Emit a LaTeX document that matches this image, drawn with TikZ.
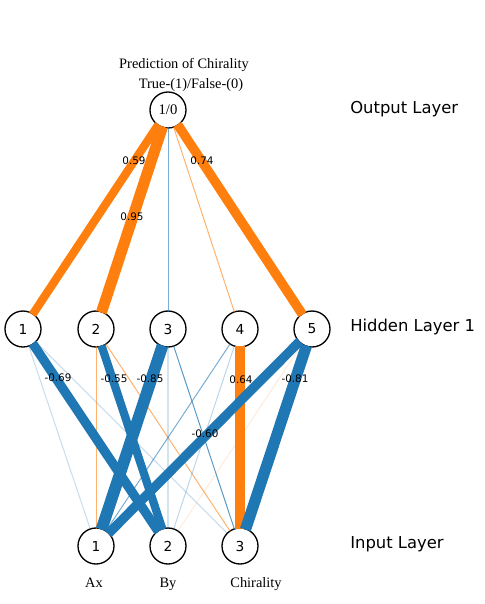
\documentclass[tikz,border=0pt]{standalone}
\usepackage{fontspec}
\setmainfont{Liberation Serif}
\newfontfamily\dv{DejaVu Sans}
\definecolor{tblue}{RGB}{31,119,180}
\definecolor{torange}{RGB}{255,127,14}
\begin{document}
\begin{tikzpicture}[x=0.75pt,y=-0.75pt,
  neuron/.style={circle,draw=black,line width=1pt,minimum size=27pt,inner sep=0pt,
    font=\dv\fontsize{10.3}{12}\selectfont},
  wlab/.style={font=\dv\fontsize{7.8}{9}\selectfont,inner sep=0pt},
  layerlab/.style={font=\dv\fontsize{12.3}{14}\selectfont,anchor=base west,inner sep=0pt},
  sertext/.style={font=\fontsize{10.8}{13}\selectfont,inner sep=0pt,anchor=base},
  wedge/.style={line cap=butt,shorten <=-1pt,shorten >=-1pt}]
\useasboundingbox (0,0) rectangle (485,604);

% nodes
\node[neuron,font=\fontsize{11}{13}\selectfont] (o) at (168,110) {1/0};
\node[neuron] (h1) at (23,329) {1};
\node[neuron] (h2) at (96,329) {2};
\node[neuron] (h3) at (168,329) {3};
\node[neuron] (h4) at (240,329) {4};
\node[neuron] (h5) at (312,329) {5};
\node[neuron] (i1) at (96,546) {1};
\node[neuron] (i2) at (168,546) {2};
\node[neuron] (i3) at (240,546) {3};

% output - hidden
\draw[wedge,torange,line width=6.2pt] (o) -- (h1);
\draw[wedge,torange,line width=8.3pt] (o) -- (h2);
\draw[wedge,tblue,line width=0.75pt,opacity=0.6] (o) -- (h3);
\draw[wedge,torange,line width=0.75pt,opacity=0.6] (o) -- (h4);
\draw[wedge,torange,line width=7.1pt] (o) -- (h5);

% hidden - input (thin first)
\draw[wedge,tblue,line width=0.75pt,opacity=0.25] (h1) -- (i1);
\draw[wedge,tblue,line width=0.75pt,opacity=0.3] (h1) -- (i3);
\draw[wedge,torange,line width=0.75pt,opacity=0.6] (h2) -- (i1);
\draw[wedge,torange,line width=0.75pt,opacity=0.6] (h2) -- (i3);
\draw[wedge,tblue,line width=1.9pt,opacity=0.2] (h3) -- (i2);
\draw[wedge,tblue,line width=0.75pt,opacity=0.75] (h3) -- (i3);
\draw[wedge,tblue,line width=0.75pt,opacity=0.6] (h4) -- (i1);
\draw[wedge,tblue,line width=0.75pt,opacity=0.3] (h4) -- (i2);
\draw[wedge,torange,line width=0.75pt,opacity=0.15] (h5) -- (i2);
% thick
\draw[wedge,tblue,line width=7pt] (h1) -- (i2);
\draw[wedge,tblue,line width=6.2pt] (h2) -- (i2);
\draw[wedge,tblue,line width=8.8pt] (h3) -- (i1);
\draw[wedge,torange,line width=7.3pt] (h4) -- (i3);
\draw[wedge,tblue,line width=7pt] (h5) -- (i1);
\draw[wedge,tblue,line width=8.4pt] (h5) -- (i3);

% weight labels
\node[wlab] (w1) at (134,161) {0.59};
\node[wlab] (w2) at (132,217) {0.95};
\node[wlab] (w3) at (202,161) {0.74};
\node[wlab] (w4) at (58,378) {-0.69};
\node[wlab] (w5) at (114,379) {-0.55};
\node[wlab] (w6) at (150,379) {-0.85};
\node[wlab] (w7) at (241,380) {0.64};
\node[wlab] (w8) at (295,379) {-0.81};
\node[wlab] (w9) at (205,434) {-0.60};

% titles
\node[sertext] (t1) at (184,68) {Prediction of Chirality};
\node[sertext] (t2) at (191,88) {True-(1)/False-(0)};
\node[sertext] (a1) at (94,587) {Ax};
\node[sertext] (a2) at (168,587) {By};
\node[sertext] (a3) at (256,587) {Chirality};

% layer labels
\node[layerlab] (l1) at (350,113) {Output Layer};
\node[layerlab] (l2) at (350,331) {Hidden Layer 1};
\node[layerlab] (l3) at (350,548) {Input Layer};
\end{tikzpicture}
\end{document}
